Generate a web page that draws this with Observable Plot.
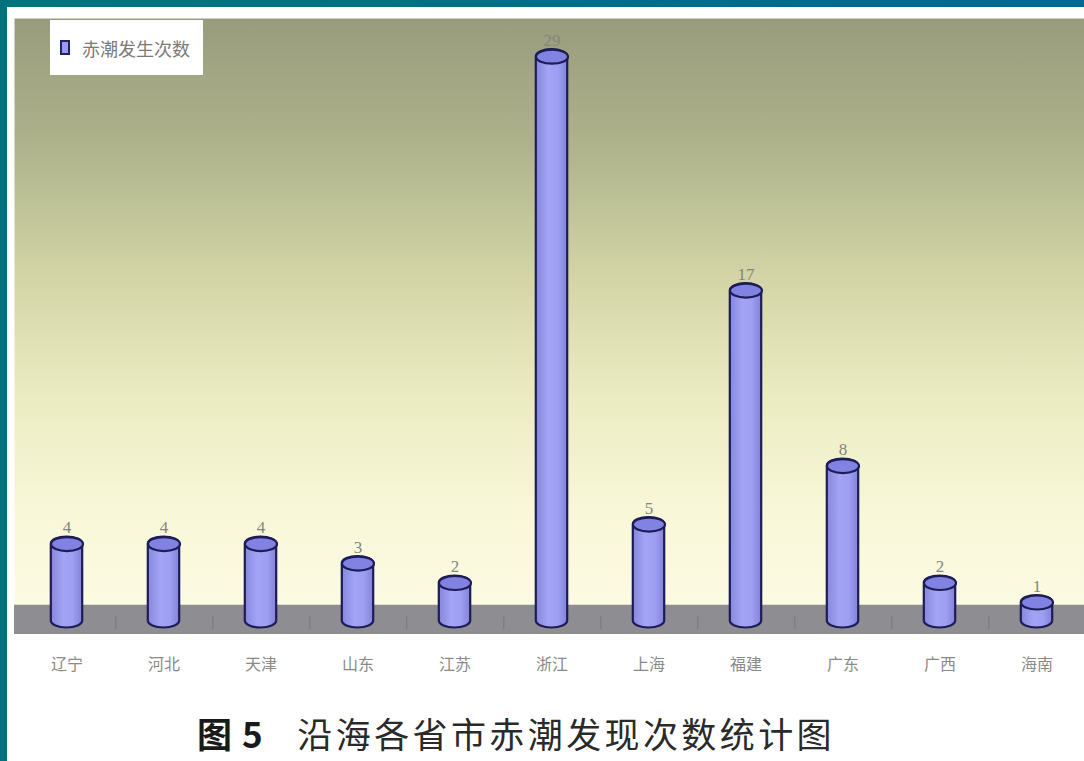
<!DOCTYPE html>
<html><head><meta charset="utf-8">
<script src="https://cdn.jsdelivr.net/npm/d3@7"></script>
<script src="https://cdn.jsdelivr.net/npm/@observablehq/plot@0.6"></script>
<style>
html,body{margin:0;padding:0;background:#fff;width:1084px;height:761px;overflow:hidden;}
#wrap{position:relative;width:1084px;height:761px;background:#fff;}
#chart{position:absolute;left:0;top:0;}
#topbar{position:absolute;left:0;top:0;width:1084px;height:7px;background:linear-gradient(90deg,#00747c 0%,#006f86 45%,#00698f 100%);}
#leftbar{position:absolute;left:0;top:0;width:7px;height:761px;background:#00727c;}
#legend{position:absolute;left:50px;top:20px;width:153px;height:55px;background:#fff;font-family:"Noto Sans CJK SC",sans-serif;font-size:18px;color:#7a7a7a;display:flex;align-items:center;}
#legend .sw{display:inline-block;width:6px;height:11px;border:2px solid #22225e;background:#9a9af0;margin-left:10px;margin-right:12px;}
#title{position:absolute;left:197px;top:711px;font-family:"Noto Sans CJK SC",sans-serif;font-size:35px;color:#2a2a2a;white-space:pre;letter-spacing:3.4px;line-height:44px;}
#title b{font-weight:bold;color:#1a1a1a;letter-spacing:1px;}
</style></head><body>
<div id="wrap">
  <div id="chart"></div>
  <div id="topbar"></div>
  <div id="leftbar"></div>
  <div id="legend"><span class="sw"></span><span id="legtext"></span></div>
  <div id="title"><b id="t1"></b><span id="t2"></span></div>
</div>
<script>
const provinces = ["辽宁","河北","天津","山东","江苏","浙江","上海","福建","广东","广西","海南"];
const counts = [4, 4, 4, 3, 2, 29, 5, 17, 8, 2, 1];
const seriesName = "赤潮发生次数";
const titleLead = "图 5";
const titleText = "   沿海各省市赤潮发现次数统计图";

document.getElementById("legtext").textContent = seriesName;
document.getElementById("t1").textContent = titleLead;
document.getElementById("t2").textContent = titleText;

const data = provinces.map((p, i) => ({province: p, count: counts[i]}));

const ellipse = {
  draw(ctx) {
    const rx = 16, ry = 7, k = 0.5523;
    ctx.moveTo(-rx, 0);
    ctx.bezierCurveTo(-rx, -ry * k, -rx * k, -ry, 0, -ry);
    ctx.bezierCurveTo(rx * k, -ry, rx, -ry * k, rx, 0);
    ctx.bezierCurveTo(rx, ry * k, rx * k, ry, 0, ry);
    ctx.bezierCurveTo(-rx * k, ry, -rx, ry * k, -rx, 0);
    ctx.closePath();
  }
};

const step = (1088.8 - 15.2) / provinces.length;
const barInset = (step - 32) / 2;

const chart = Plot.plot({
  width: 1084,
  height: 700,
  marginTop: 18,
  marginBottom: 66,
  marginLeft: 14,
  marginRight: 0,
  style: {background: "transparent", fontFamily: "'Noto Sans CJK SC', sans-serif"},
  x: {type: "band", domain: provinces, range: [15.2, 1088.8], padding: 0, label: null},
  y: {domain: [-1, 30.6], axis: null},
  marks: [
    Plot.frame({fill: "url(#bgGrad)", stroke: "none"}),
    Plot.rect([0], {y1: -1, y2: 0.5, fill: "#8d8d92"}),
    Plot.ruleX(provinces.slice(0, -1), {x: d => d, dx: step / 2, y1: -0.75, y2: -0.1, stroke: "#5e5e66", strokeOpacity: 0.45}),
    Plot.barY(data, {x: "province", y: "count", fill: "url(#cylGrad)", stroke: "#1c1c56", strokeWidth: 2.2,
      rx: 16, ry: 7, insetLeft: barInset, insetRight: barInset, insetBottom: -13}),
    Plot.dot(data, {x: "province", y: "count", dy: 7, r: 5, symbol: ellipse, fill: "#8282e2", stroke: "#1c1c56", strokeWidth: 2.2}),
    Plot.text(data, {x: "province", y: "count", text: d => String(d.count), dy: -4, lineAnchor: "bottom",
      fill: "#85857a", fontSize: 17, fontFamily: "'Liberation Serif', serif"}),
    Plot.axisX({tickSize: 0, tickPadding: 24, fontSize: 16, fill: "#8a8a8a", anchor: "bottom", label: null})
  ]
});

const svg = d3.select(chart);
const defs = svg.insert("defs", ":first-child");
const bg = defs.append("linearGradient").attr("id", "bgGrad").attr("x1", 0).attr("y1", 0).attr("x2", 0).attr("y2", 1);
[["0%", "#989c7d"], ["20%", "#adb28b"], ["42%", "#d3d5a6"], ["62%", "#ececc3"], ["80%", "#f8f7d8"], ["100%", "#fdfce6"]]
  .forEach(([o, c]) => bg.append("stop").attr("offset", o).attr("stop-color", c));
const cyl = defs.append("linearGradient").attr("id", "cylGrad").attr("x1", 0).attr("y1", 0).attr("x2", 1).attr("y2", 0);
[["0%", "#8686dc"], ["40%", "#a4a4f6"], ["70%", "#9e9ef2"], ["100%", "#8282d8"]]
  .forEach(([o, c]) => cyl.append("stop").attr("offset", o).attr("stop-color", c));

document.getElementById("chart").appendChild(chart);
</script>
</body></html>
